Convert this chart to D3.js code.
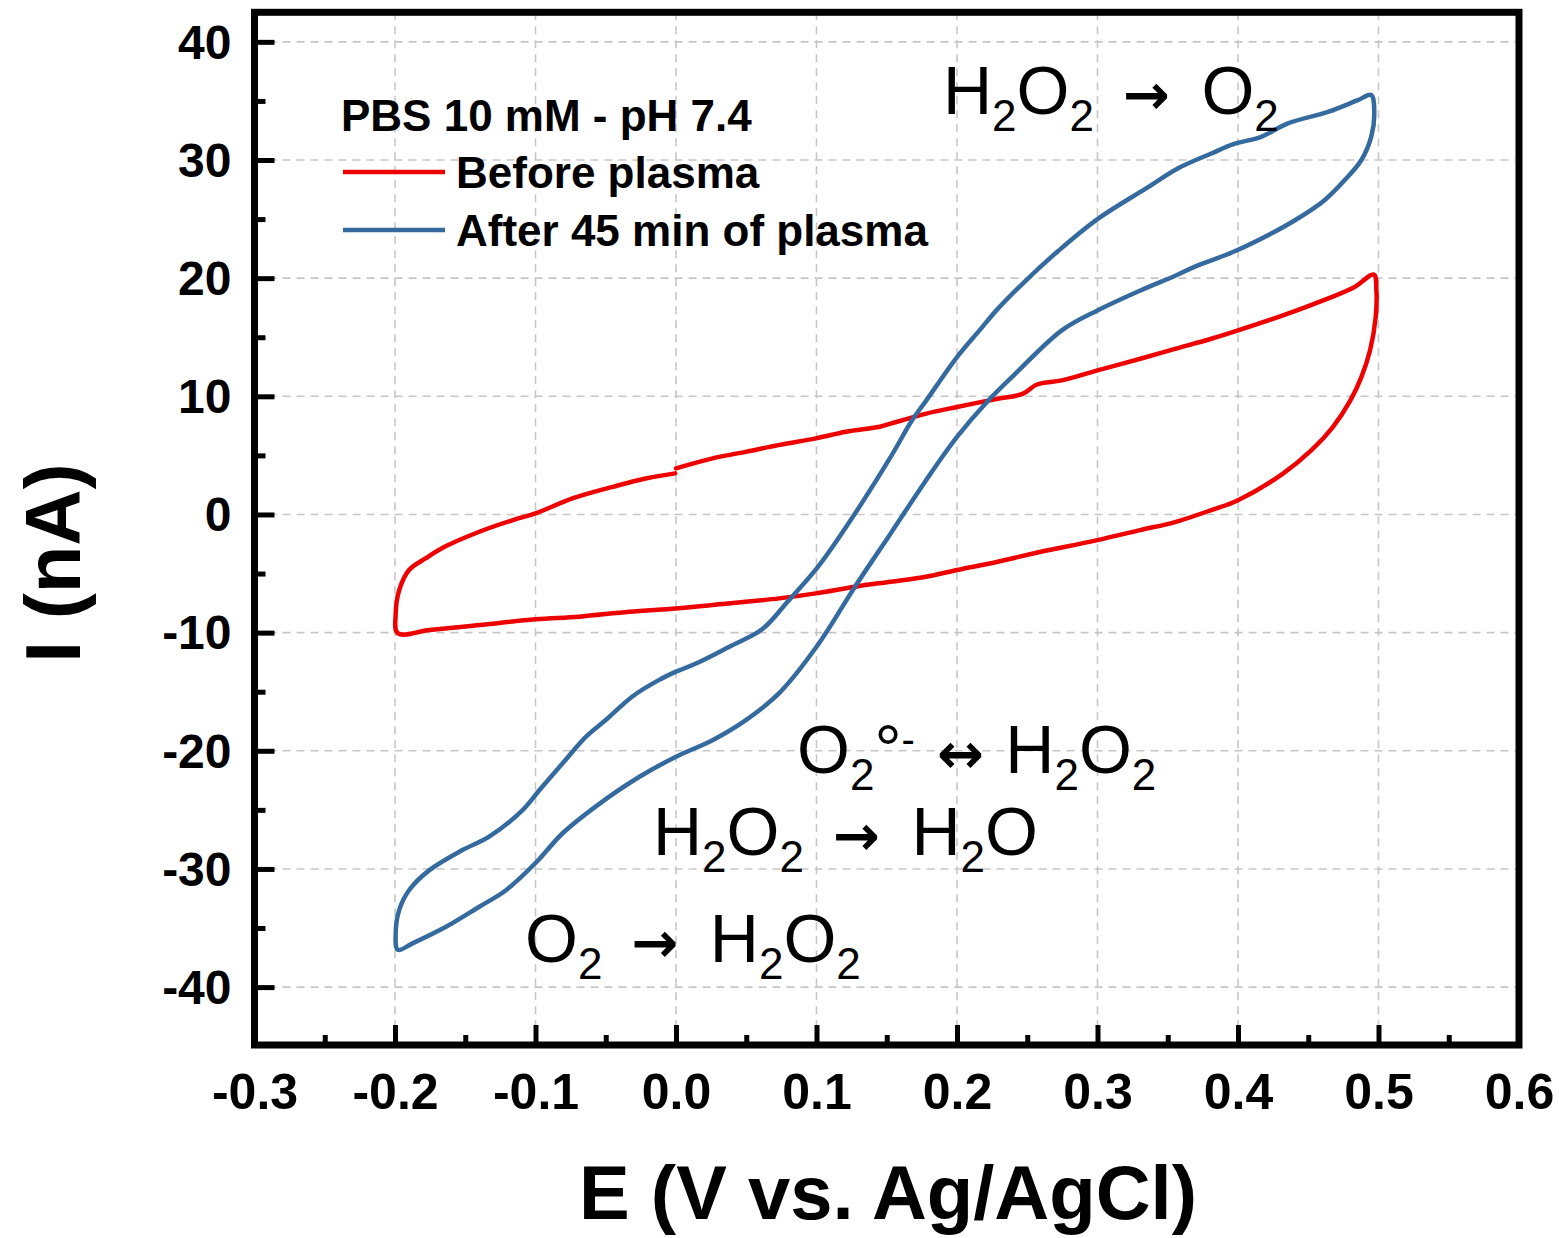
<!DOCTYPE html>
<html>
<head>
<meta charset="utf-8">
<script src="https://cdn.jsdelivr.net/npm/d3@7"></script>
<style>
  body { margin: 0; background: #fff; }
  svg { display: block; }
</style>
</head>
<body>
<svg id="chart" width="1559" height="1238"></svg>
<script>
// tick values
let xTicks = [-0.3, -0.2, -0.1, 0.0, 0.1, 0.2, 0.3, 0.4, 0.5, 0.6];
let xMinor = [-0.25, -0.15, -0.05, 0.05, 0.15, 0.25, 0.35, 0.45, 0.55];
let yTicks = [-40, -30, -20, -10, 0, 10, 20, 30, 40];
let yMinor = [-35, -25, -15, -5, 5, 15, 25, 35];
let xGrid = [-0.2, -0.1, 0.0, 0.1, 0.2, 0.3, 0.4, 0.5];

// Before plasma (red) - scan starts at 0 V, goes to 0.5 V, back to -0.2 V, up to 0 V
let beforeE = [0.0, 0.026, 0.0496, 0.073, 0.0996, 0.121, 0.145, 0.1528, 0.1782, 0.2, 0.229, 0.2467, 0.2569,
  0.2746, 0.3, 0.3305, 0.3558, 0.381, 0.4, 0.432, 0.4574, 0.4827, 0.4967,
  0.4985, 0.498, 0.494, 0.4878, 0.48, 0.4675, 0.4523, 0.432, 0.4, 0.381, 0.3558, 0.3305, 0.3, 0.2543,
  0.229, 0.2, 0.178, 0.1528, 0.1274, 0.0996, 0.0735, 0.026, 0.0, -0.0333, -0.069, -0.1, -0.14, -0.1755, -0.198,
  -0.1995, -0.197, -0.19, -0.178, -0.164, -0.14, -0.116, -0.1, -0.0737, -0.045, -0.0216, -0.0006];
let beforeI = [3.9, 4.75, 5.3, 5.87, 6.44, 7.0, 7.42, 7.69, 8.54, 9.1, 9.8, 10.2, 11.0,
  11.35, 12.2, 13.18, 14.03, 14.87, 15.58, 16.85, 17.97, 19.24, 20.3,
  18.96, 16.7, 13.9, 11.63, 9.66, 7.4, 5.44, 3.46, 1.21, 0.37, -0.62, -1.32, -2.17, -3.3,
  -4.0, -4.7, -5.27, -5.69, -6.11, -6.68, -7.1, -7.66, -7.95, -8.23, -8.65, -8.87, -9.36, -9.78, -10.06,
  -8.4, -6.4, -4.7, -3.7, -2.7, -1.46, -0.47, 0.09, 1.36, 2.34, 3.05, 3.48];

// After 45 min of plasma (blue)
let afterE = [0.0, 0.017, 0.038, 0.0615, 0.08, 0.102, 0.1274, 0.1528, 0.168, 0.1782, 0.2, 0.216, 0.229, 0.249,
  0.272, 0.3, 0.336, 0.3574, 0.381, 0.3968, 0.4165, 0.4355, 0.464, 0.4853, 0.4948,
  0.497, 0.4948, 0.4877, 0.476, 0.4616, 0.4426, 0.4237, 0.3968, 0.369, 0.3558, 0.3305, 0.3, 0.2746,
  0.2416, 0.2213, 0.2, 0.178, 0.1528, 0.1274, 0.1, 0.0736, 0.0497, 0.026, 0.0, -0.026, -0.057, -0.0807,
  -0.1, -0.121, -0.14, -0.1637, -0.1875, -0.198,
  -0.1995, -0.197, -0.19, -0.1755, -0.152, -0.133, -0.109, -0.097, -0.0807, -0.064, -0.05, -0.031, -0.012, 0.0];
let afterI = [-13.3, -12.46, -11.19, -9.7, -7.3, -4.28, 0.08, 4.87, 7.97, 9.66, 13.32, 15.58, 17.4, 19.8,
  22.3, 25.0, 27.7, 29.3, 30.55, 31.34, 31.96, 33.1, 34.07, 35.06, 35.5,
  33.9, 31.96, 29.98, 28.3, 26.6, 25.05, 23.78, 22.23, 20.96, 20.23, 18.96, 17.27, 15.58,
  11.92, 9.52, 6.56, 2.9, -1.6, -6.11, -11.2, -15.1, -17.4, -19.1, -20.5, -22.2, -24.7, -26.98,
  -29.5, -31.8, -33.2, -34.9, -36.3, -36.85,
  -35.44, -33.47, -31.8, -30.1, -28.4, -27.27, -25.0, -23.3, -21.06, -18.8, -17.4, -15.4, -14.0, -13.3];

let seriesNames = ["Before plasma", "After 45 min of plasma"];
let seriesColors = ["#ee0000", "#356a9f"];
let legendTitle = "PBS 10 mM - pH 7.4";

// reaction labels: [text, kind] pieces
let reactions = [
  [["H"], ["2", "sub"], ["O"], ["2", "sub"], ["\u2192", "arrow"], ["O"], ["2", "sub"]],
  [["O"], ["2", "sub"], ["\u00b0"], ["-", "sup"], ["\u2194", "arrow"], ["H"], ["2", "sub"], ["O"], ["2", "sub"]],
  [["H"], ["2", "sub"], ["O"], ["2", "sub"], ["\u2192", "arrow"], ["H"], ["2", "sub"], ["O"]],
  [["O"], ["2", "sub"], ["\u2192", "arrow"], ["H"], ["2", "sub"], ["O"], ["2", "sub"]]
];
let reactionPos = [[943, 114], [797, 773], [653, 855], [525, 962]];

const font = "'Liberation Sans', Arial, sans-serif";
const svg = d3.select("#chart");

const x = d3.scaleLinear().domain([-0.3, 0.6]).range([254.5, 1519]);
const y = d3.scaleLinear().domain([-44.9, 42.5]).range([1045, 12.3]);

// grid
const grid = svg.append("g")
  .attr("stroke", "#c6c6c6")
  .attr("stroke-width", 1.6)
  .attr("stroke-dasharray", "8,6");
grid.selectAll("line.v").data(xGrid).enter().append("line")
  .attr("x1", d => x(d)).attr("x2", d => x(d))
  .attr("y1", y.range()[1]).attr("y2", y.range()[0]);
grid.selectAll("line.h").data(yTicks).enter().append("line")
  .attr("y1", d => y(d)).attr("y2", d => y(d))
  .attr("x1", x.range()[0]).attr("x2", x.range()[1]);

// curves
const line = d3.line()
  .x(d => x(d[0]))
  .y(d => y(d[1]))
  .curve(d3.curveCatmullRom.alpha(0.5));

const curves = [
  d3.zip(beforeE, beforeI),
  d3.zip(afterE, afterI)
];
svg.append("g").selectAll("path")
  .data(curves)
  .enter()
  .append("path")
  .attr("d", line)
  .attr("fill", "none")
  .attr("stroke", (d, i) => seriesColors[i])
  .attr("stroke-width", 4.5)
  .attr("stroke-linejoin", "round")
  .attr("stroke-linecap", "round");

// axes
function styleAxis(g, size) {
  g.select(".domain").remove();
  g.selectAll(".tick line").attr("stroke", "#000").attr("stroke-width", 5);
  g.selectAll("text")
    .attr("fill", "#000")
    .attr("font-family", font)
    .attr("font-weight", "bold")
    .attr("font-size", size);
}

svg.append("g")
  .attr("transform", `translate(${x.range()[0]},0)`)
  .call(d3.axisLeft(y).tickValues(yTicks).tickSize(-20).tickPadding(23)
    .tickFormat(d => String(d)))
  .call(g => styleAxis(g, 48))
  .call(g => g.selectAll("text").attr("dy", "0.34em"));

svg.append("g")
  .attr("transform", `translate(${x.range()[0]},0)`)
  .call(d3.axisLeft(y).tickValues(yMinor).tickSize(-11).tickFormat(""))
  .call(g => styleAxis(g, 10));

svg.append("g")
  .attr("transform", `translate(0,${y.range()[0]})`)
  .call(d3.axisBottom(x).tickValues(xTicks).tickSize(-20).tickPadding(28)
    .tickFormat(d => d.toFixed(1)))
  .call(g => styleAxis(g, 50))
  .call(g => g.selectAll(".tick").filter(d => d === -0.3 || d === 0.6).select("line").remove());

svg.append("g")
  .attr("transform", `translate(0,${y.range()[0]})`)
  .call(d3.axisBottom(x).tickValues(xMinor).tickSize(-10).tickFormat(""))
  .call(g => styleAxis(g, 10));

// frame
svg.append("rect")
  .attr("x", x.range()[0])
  .attr("y", y.range()[1])
  .attr("width", x.range()[1] - x.range()[0])
  .attr("height", y.range()[0] - y.range()[1])
  .attr("fill", "none")
  .attr("stroke", "#000")
  .attr("stroke-width", 7);

// axis titles
svg.append("text")
  .attr("x", 888)
  .attr("y", 1219)
  .attr("text-anchor", "middle")
  .attr("font-family", font)
  .attr("font-weight", "bold")
  .attr("font-size", 76)
  .text("E (V vs. Ag/AgCl)");

svg.append("text")
  .attr("transform", "translate(80,563) rotate(-90)")
  .attr("text-anchor", "middle")
  .attr("font-family", font)
  .attr("font-weight", "bold")
  .attr("font-size", 78)
  .text("I (nA)");

// legend
const legend = svg.append("g").attr("font-family", font).attr("font-weight", "bold").attr("font-size", 44);
legend.append("text").attr("x", 341).attr("y", 131).text(legendTitle);
seriesNames.forEach((name, i) => {
  const ly = 172 + i * 58;
  legend.append("line")
    .attr("x1", 343).attr("x2", 445)
    .attr("y1", ly).attr("y2", ly)
    .attr("stroke", seriesColors[i])
    .attr("stroke-width", 4.5);
  legend.append("text").attr("x", 456).attr("y", ly + 16).text(name);
});

// reaction annotations
reactions.forEach((parts, k) => {
  const t = svg.append("text")
    .attr("x", reactionPos[k][0])
    .attr("y", reactionPos[k][1])
    .attr("font-family", font)
    .attr("font-size", 68)
    .attr("fill", "#000");
  let shift = 0;
  let afterArrow = 0;
  parts.forEach(p => {
    const kind = p[1];
    let target = 0;
    if (kind === "sub") target = 17;
    if (kind === "sup") target = -20;
    const ts = t.append("tspan").attr("dy", target - shift).text(p[0]);
    shift = target;
    if (kind === "sub") ts.attr("font-size", 44);
    if (kind === "sup") ts.attr("font-size", 40);
    if (afterArrow) { ts.attr("dx", afterArrow); afterArrow = 0; }
    if (kind === "arrow") {
      const twoWay = p[0] === "\u2194";
      ts.attr("font-family", "'DejaVu Sans', sans-serif")
        .attr("font-weight", "bold")
        .attr("font-size", 56)
        .attr("dx", twoWay ? 22 : 29);
      ts.text(p[0] + "\u00a0");
      afterArrow = twoWay ? 2 : 12;
    }
  });
});
</script>
</body>
</html>
